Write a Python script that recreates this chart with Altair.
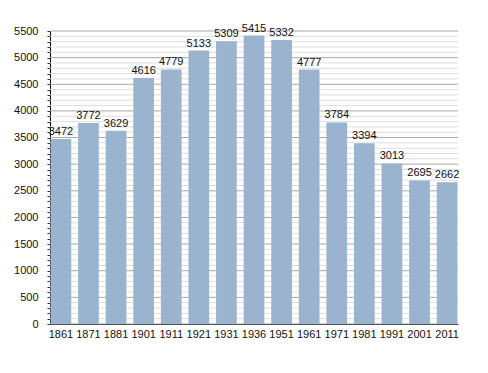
import altair as alt
import pandas as pd

years = ["1861", "1871", "1881", "1901", "1911", "1921", "1931", "1936",
         "1951", "1961", "1971", "1981", "1991", "2001", "2011"]
population = [3472, 3772, 3629, 4616, 4779, 5133, 5309, 5415,
              5332, 4777, 3784, 3394, 3013, 2695, 2662]
tick_values = list(range(0, 5501, 100))

df = pd.DataFrame({"year": years, "pop": population})
grid_df = pd.DataFrame({"v": tick_values,
                        "major": [v % 500 == 0 for v in tick_values]})

FONT = "Liberation Sans"

yscale = alt.Scale(domain=[0, 5500], nice=False)
yaxis = alt.Axis(values=tick_values,
                 labelExpr="datum.value % 500 === 0 ? datum.label : ''",
                 labelOverlap=False, format="d",
                 labelFont=FONT, labelFontSize=11, labelColor="#111",
                 tickSize=3, tickColor="#333", domainColor="#000",
                 labelPadding=9, grid=False)

x = alt.X("year:N", sort=years, title=None,
          scale=alt.Scale(paddingInner=0.25, paddingOuter=0.02),
          axis=alt.Axis(labelAngle=0, labelFont=FONT, labelFontSize=11,
                        labelColor="#111", ticks=False, domainColor="#000",
                        labelPadding=4, grid=False))

grid = alt.Chart(grid_df).mark_rule(strokeWidth=1).encode(
    y=alt.Y("v:Q", scale=yscale, axis=yaxis, title=None),
    color=alt.Color("major:N", scale=alt.Scale(domain=[True, False], range=["#a8a8a8", "#dedede"]), legend=None),
)

bars = alt.Chart(df).mark_bar(color="#9ab3cf").encode(
    x=x, y=alt.Y("pop:Q", scale=yscale, axis=yaxis, title=None))
labels = alt.Chart(df).mark_text(baseline="bottom", dy=-2, font=FONT,
                                 fontSize=11, color="#111").encode(
    x=alt.X("year:N", sort=years), y=alt.Y("pop:Q", scale=yscale, axis=yaxis, title=None),
    text="pop:Q")

chart = (grid + bars + labels).properties(
    width=408, height=293,
    padding={"left": 42, "top": 23, "right": 22, "bottom": 30},
    autosize=alt.AutoSizeParams(type="none"),
).configure_view(stroke=None)

chart.save("out.html", embed_options={"renderer": "svg", "actions": False})
